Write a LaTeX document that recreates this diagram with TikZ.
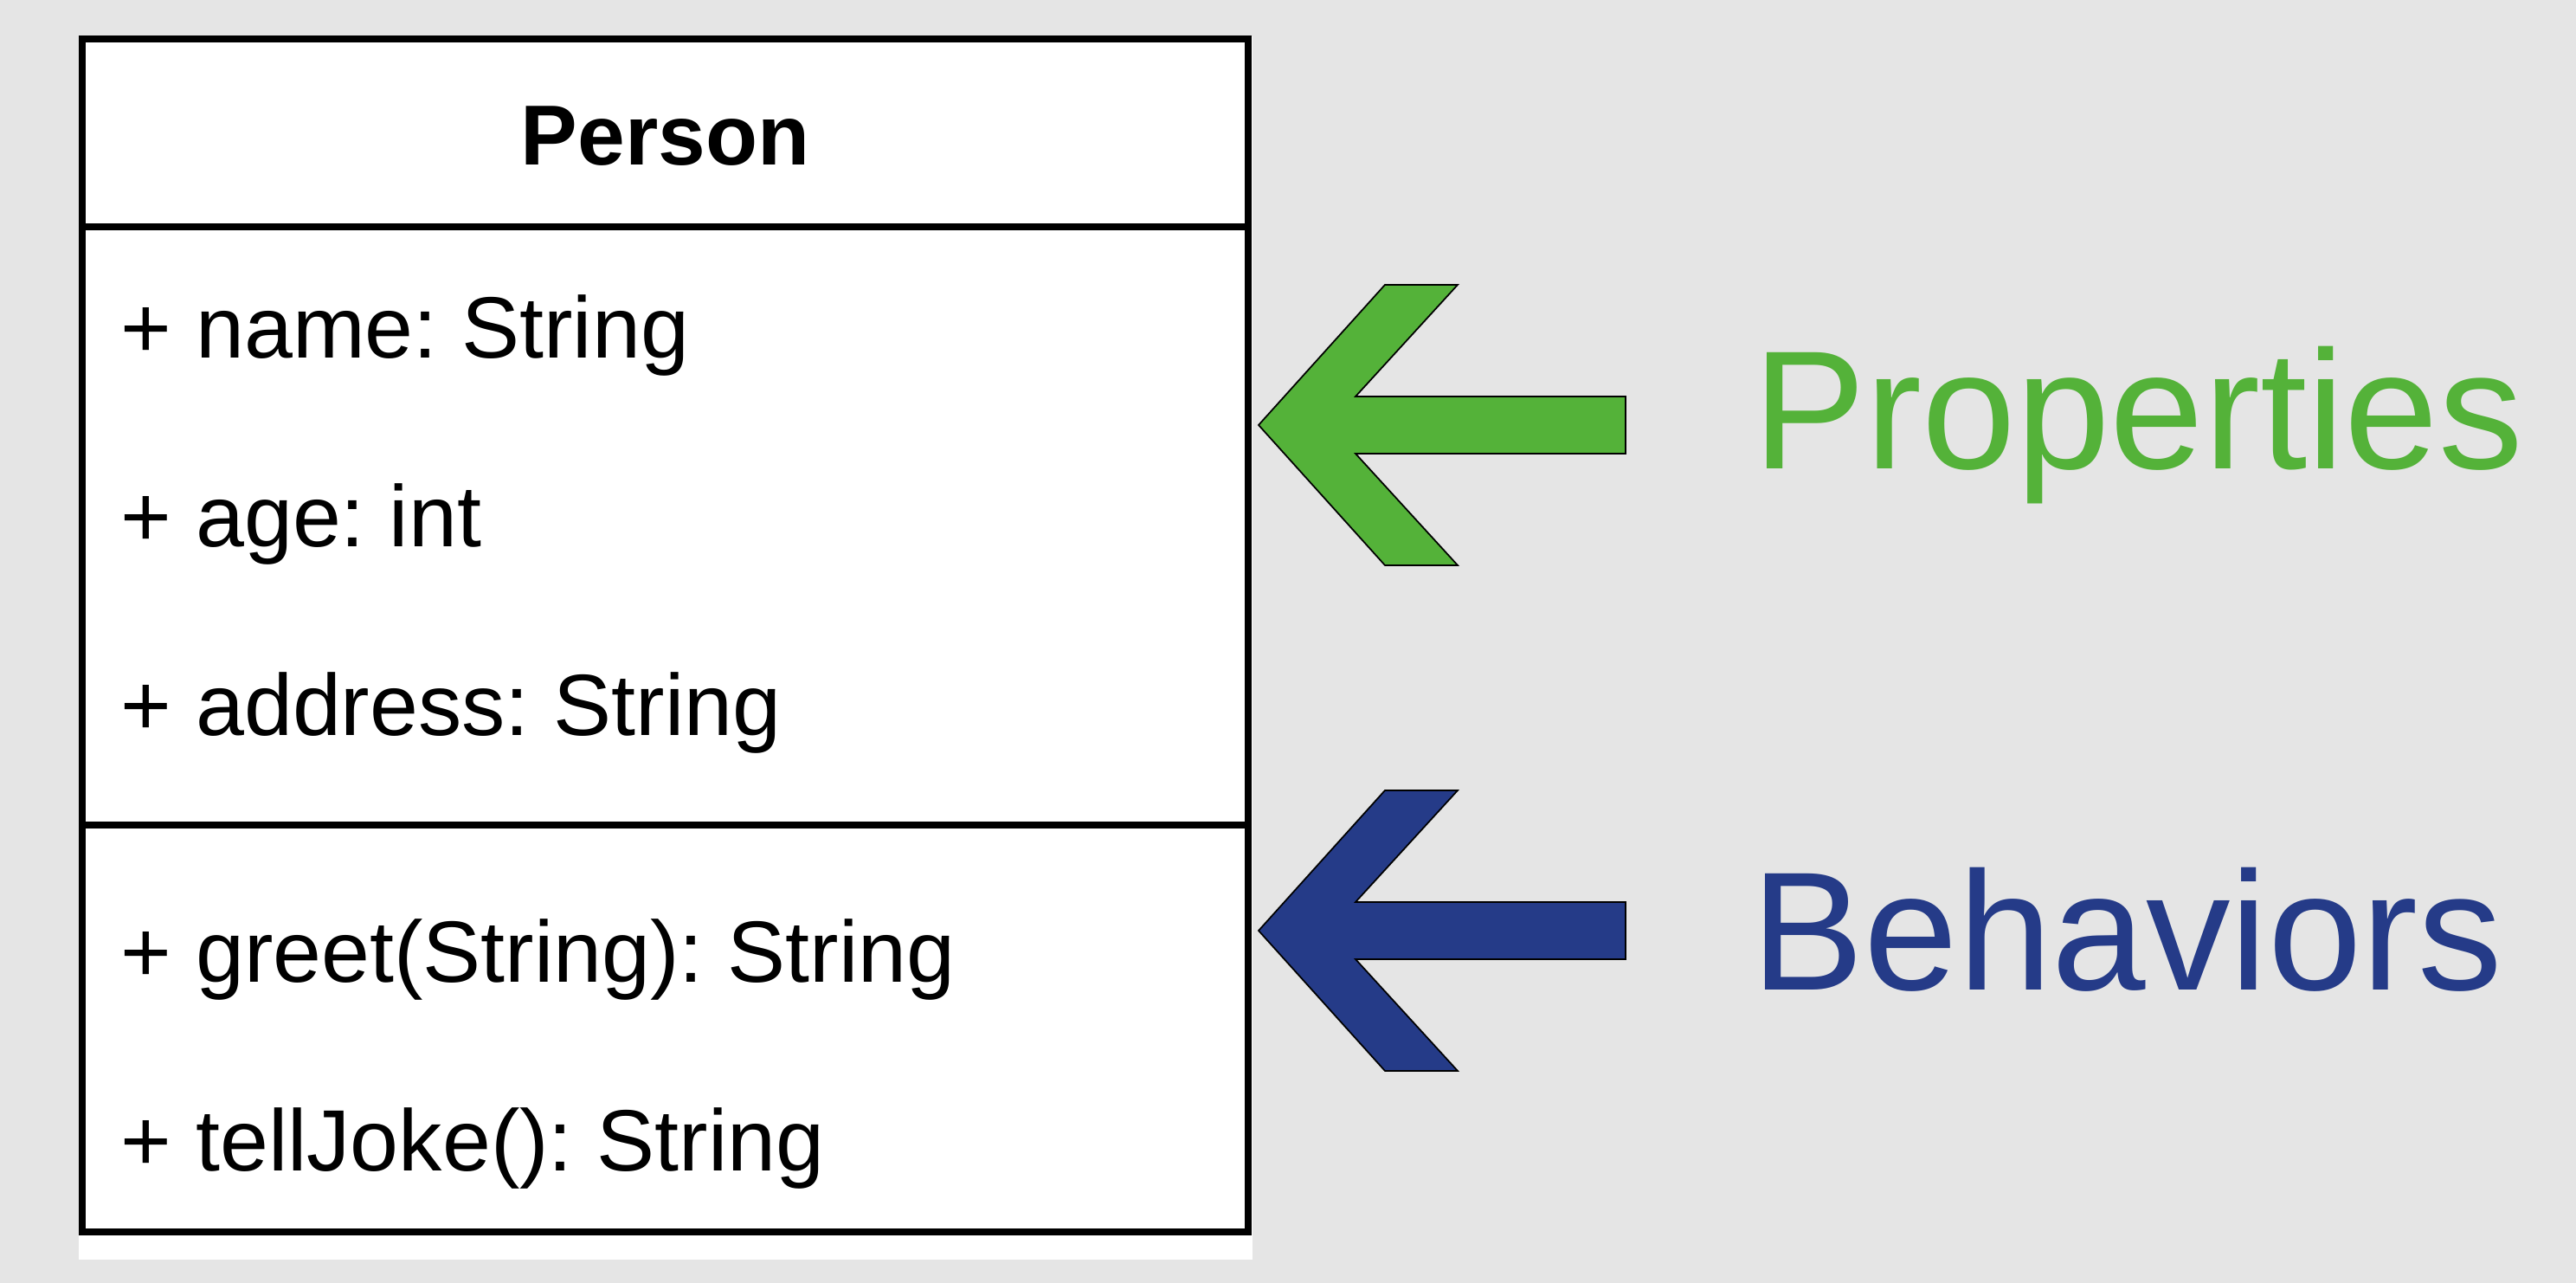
\documentclass[tikz,border=0pt]{standalone}
\usepackage{fontspec}
\setmainfont{Liberation Sans}
\usepackage{tikz}
\usetikzlibrary{positioning}
\definecolor{propgreen}{RGB}{84,178,57}
\definecolor{behavblue}{RGB}{37,59,136}
\definecolor{bggray}{RGB}{229,229,229}
\frenchspacing

\tikzset{pics/pointer/.style={code={
  \filldraw[fill=#1,draw=black,line width=0.5pt,line join=miter]
    (0,0) -- (1.46,1.62) -- (2.30,1.62) -- (1.12,0.33) -- (4.24,0.33)
    -- (4.24,-0.33) -- (1.12,-0.33) -- (2.30,-1.62) -- (1.46,-1.62) -- cycle;}}}

\begin{document}
\begin{tikzpicture}[every node/.style={inner sep=0pt},
    member/.style={anchor=base west,font=\fontsize{28.6}{34}\selectfont},
    classname/.style={anchor=base,font=\fontsize{28}{34}\selectfont\bfseries},
    tag/.style={anchor=base west,font=\fontsize{55.5}{66}\selectfont},
    umlline/.style={line width=2.4pt}]
  \fill[bggray] (0,0) rectangle (29.76,14.82);
  \useasboundingbox (0,0) rectangle (29.76,14.82);
  % class box
  \fill[white] (0.91,0.27) rectangle (14.47,14.40);
  \draw[umlline] (0.95,0.59) rectangle (14.42,14.37);
  \draw[umlline] (0.95,12.20) -- (14.42,12.20);
  \draw[umlline] (0.95,5.29) -- (14.42,5.29);
  \node[classname] (cls) at (7.685,12.91) {Person};
  \node[member] (name) at (1.39,10.68) {+ name: String};
  \node[member] (age) at (1.39,8.50) {+ age: int};
  \node[member] (addr) at (1.39,6.32) {+ address: String};
  \node[member] (greet) at (1.39,3.47) {+ greet(String): String};
  \node[member] (joke) at (1.39,1.29) {+ tellJoke(): String};
  % pointers and their labels
  \pic at (14.54,9.91) {pointer=propgreen};
  \pic at (14.54,4.07) {pointer=behavblue};
  \node[tag,propgreen] (props) at (20.25,9.40) {Properties};
  \node[tag,behavblue] (behav) at (20.23,3.38) {Behaviors};
\end{tikzpicture}
\end{document}
